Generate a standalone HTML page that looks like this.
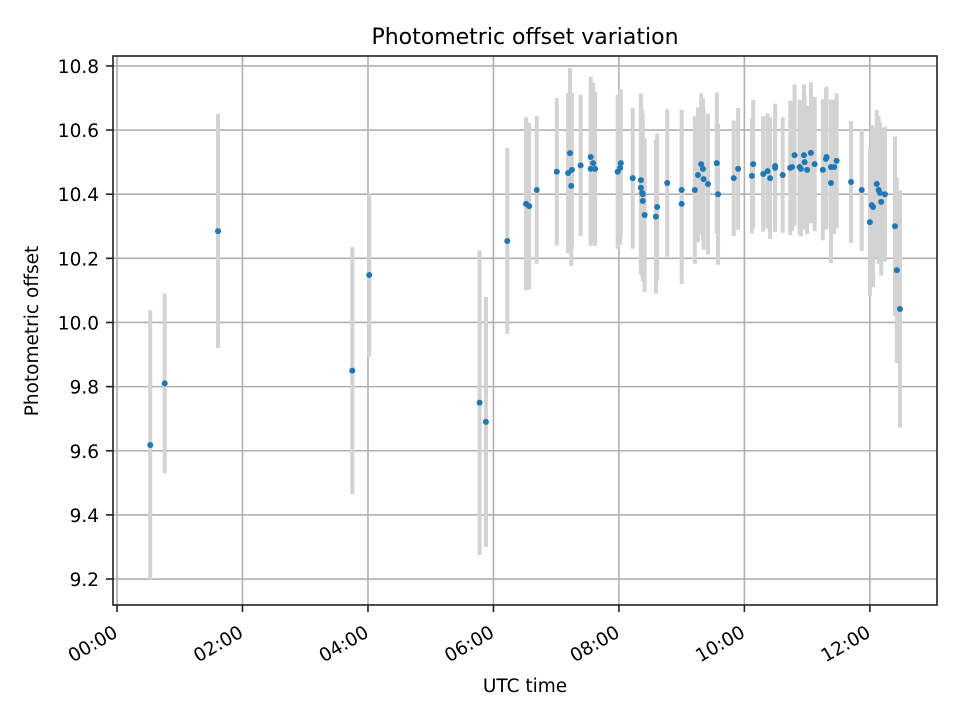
<!DOCTYPE html>
<html><head><meta charset="utf-8"><style>
body{margin:0;background:#fff;}
text{font-family:"DejaVu Sans","Liberation Sans",sans-serif;fill:#000;}
</style></head><body>
<svg id="chart" width="960" height="720" xmlns="http://www.w3.org/2000/svg">
<rect width="960" height="720" fill="#fff"/>
<text x="525" y="44" font-size="22" text-anchor="middle">Photometric offset variation</text>
<text x="525" y="692" font-size="18.5" text-anchor="middle">UTC time</text>
<text x="38" y="331" font-size="18.5" text-anchor="middle" transform="rotate(-90 38 331)">Photometric offset</text>
<g id="grid"></g><g id="errs"></g><g id="pts"></g><g id="axes"></g>
</svg>
<script>
const hours = [0.53,0.76,1.61,3.75,4.02,5.78,5.88,6.22,6.52,6.57,6.69,7.01,7.22,7.19,7.25,7.24,7.39,7.55,7.59,7.55,7.62,7.98,8.02,8.03,8.22,8.35,8.35,8.37,8.38,8.38,8.41,8.59,8.61,8.77,9.0,9.0,9.21,9.31,9.34,9.26,9.35,9.42,9.56,9.58,9.83,9.90,10.12,10.14,10.30,10.37,10.41,10.49,10.49,10.61,10.73,10.76,10.80,10.88,10.90,10.95,10.96,11.0,11.06,11.12,11.25,11.30,11.31,11.38,11.43,11.38,11.47,11.70,11.87,12.0,12.03,12.05,12.11,12.14,12.16,12.18,12.24,12.40,12.43,12.48];
const offsets = [9.618,9.81,10.285,9.85,10.148,9.75,9.69,10.254,10.37,10.363,10.413,10.47,10.528,10.466,10.476,10.426,10.49,10.516,10.497,10.479,10.479,10.47,10.482,10.497,10.45,10.444,10.42,10.404,10.40,10.379,10.335,10.33,10.36,10.435,10.37,10.413,10.413,10.494,10.479,10.46,10.447,10.432,10.497,10.40,10.45,10.479,10.457,10.494,10.463,10.472,10.45,10.488,10.482,10.46,10.482,10.485,10.522,10.485,10.479,10.522,10.5,10.476,10.529,10.494,10.476,10.51,10.516,10.485,10.485,10.435,10.504,10.438,10.413,10.313,10.366,10.36,10.432,10.413,10.404,10.376,10.40,10.30,10.163,10.042];
const errors = [0.42,0.28,0.365,0.385,0.255,0.475,0.39,0.29,0.27,0.26,0.23,0.23,0.265,0.25,0.24,0.25,0.22,0.25,0.25,0.24,0.24,0.24,0.24,0.23,0.22,0.27,0.27,0.26,0.25,0.25,0.24,0.24,0.23,0.23,0.25,0.25,0.23,0.22,0.22,0.21,0.22,0.22,0.22,0.22,0.18,0.19,0.18,0.2,0.18,0.18,0.19,0.18,0.2,0.18,0.21,0.2,0.22,0.21,0.21,0.22,0.21,0.2,0.22,0.21,0.22,0.22,0.22,0.21,0.21,0.25,0.21,0.19,0.19,0.23,0.25,0.25,0.23,0.23,0.22,0.23,0.21,0.28,0.29,0.37];
const yTicks = [9.2,9.4,9.6,9.8,10.0,10.2,10.4,10.6,10.8];
const xTickHours = [0,2,4,6,8,10,12];
const xTickLabels = ["00:00","02:00","04:00","06:00","08:00","10:00","12:00"];

const L=113,R=937,T=56,B=605;
const hMin=-0.064,hMax=13.07,yMin=9.119,yMax=10.831;
const xs=h=>L+(h-hMin)/(hMax-hMin)*(R-L);
const ys=v=>B-(v-yMin)/(yMax-yMin)*(B-T);
const NS="http://www.w3.org/2000/svg";
function mk(tag,attrs,parent){const e=document.createElementNS(NS,tag);for(const k in attrs)e.setAttribute(k,attrs[k]);document.getElementById(parent).appendChild(e);return e;}

xTickHours.forEach((h,i)=>{
  const x=xs(h);
  const g=mk('line',{x1:x,x2:x,y1:T,y2:B,stroke:'#b0b0b0','stroke-width':1.6},'grid');
  
  
  const t=mk('line',{x1:x,x2:x,y1:B,y2:B+7,stroke:'#222','stroke-width':1.6},'axes');
  
  
  const ax=x+2, ay=B+31;
  const lb=mk('text',{x:ax,y:ay,'font-size':18.5,'text-anchor':'end',transform:`rotate(-30 ${ax} ${ay})`},'axes');
  lb.textContent=xTickLabels[i];
  
  
});
yTicks.forEach(v=>{
  const y=ys(v);
  const g=mk('line',{x1:L,x2:R,y1:y,y2:y,stroke:'#b0b0b0','stroke-width':1.6},'grid');
  
  
  const t=mk('line',{x1:L-7,x2:L,y1:y,y2:y,stroke:'#222','stroke-width':1.6},'axes');
  
  
  const lb=mk('text',{x:L-14,y:y+7,'font-size':18.5,'text-anchor':'end'},'axes');
  lb.textContent=v.toFixed(1);
  
  
});
const frame=mk('rect',{x:L,y:T,width:R-L,height:B-T,fill:'none',stroke:'#222','stroke-width':1.6},'axes');



hours.forEach((h,i)=>{
  const x=xs(h);
  const e=mk('line',{x1:x,x2:x,y1:ys(offsets[i]+errors[i]),y2:ys(offsets[i]-errors[i]),stroke:'#d3d3d3','stroke-width':4},'errs');
  
  
  const c=mk('circle',{cx:x,cy:ys(offsets[i]),r:3,fill:'#1f77b4'},'pts');
  
  
});
</script>
</body></html>
